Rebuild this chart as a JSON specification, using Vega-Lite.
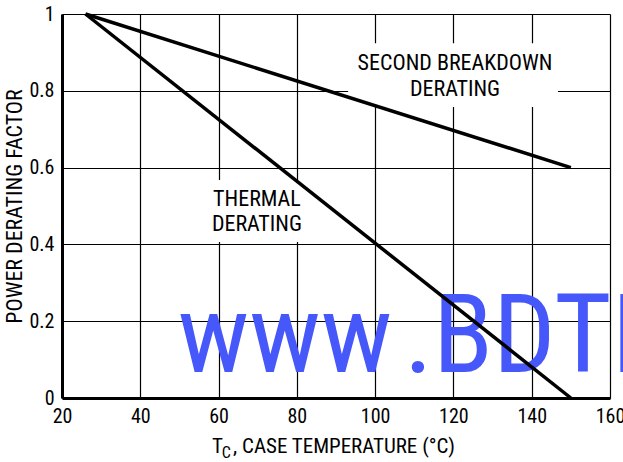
{
  "$schema": "https://vega.github.io/schema/vega-lite/v6.json",
  "width": 548,
  "height": 384,
  "autosize": {"type": "none"},
  "padding": {"left": 62, "top": 14, "right": 13, "bottom": 64},
  "background": "white",
  "config": {
    "view": {"stroke": null},
    "font": "Roboto Condensed, DejaVu Sans Condensed, Liberation Sans Narrow, Liberation Sans, sans-serif",
    "text": {"font": "Roboto Condensed, DejaVu Sans Condensed, Liberation Sans Narrow, Liberation Sans, sans-serif", "color": "black"}
  },
  "datasets": {
    "curves": [
      {"series": "Thermal derating", "T": 26, "P": 1},
      {"series": "Thermal derating", "T": 150, "P": 0},
      {"series": "Second breakdown derating", "T": 26, "P": 1},
      {"series": "Second breakdown derating", "T": 150, "P": 0.6}
    ]
  },
  "layer": [
    {
      "data": {"values": [{}]},
      "mark": {"type": "rect", "fill": "white", "stroke": null},
      "encoding": {
        "x": {"datum": 93.1, "type": "quantitative", "scale": {"domain": [20, 160], "nice": false, "zero": false},
          "axis": {
            "values": [20, 30, 40, 50, 60, 70, 80, 90, 100, 110, 120, 130, 140, 150, 160],
            "labelExpr": "datum.value % 20 === 0 ? datum.label : ''",
            "grid": true, "gridColor": "black", "gridWidth": 1.2, "gridOpacity": 1,
            "domain": true, "domainColor": "black", "domainWidth": 3,
            "ticks": false, "tickSize": 0, "labelPadding": 8,
            "labelFontSize": 20, "labelColor": "black", "labelFlush": false, "labelOverlap": false,
            "labelFont": "Roboto Condensed, DejaVu Sans Condensed, Liberation Sans Narrow, Liberation Sans, sans-serif",
            "title": null
          }
        },
        "x2": {"datum": 146.7},
        "y": {"datum": 0.924, "type": "quantitative", "scale": {"domain": [0, 1], "nice": false, "zero": false},
          "axis": {
            "values": [0, 0.1, 0.2, 0.3, 0.4, 0.5, 0.6, 0.7, 0.8, 0.9, 1],
            "format": ".1~f",
            "labelExpr": "round(datum.value * 10) % 2 === 0 ? datum.label : ''",
            "grid": true, "gridColor": "black", "gridWidth": 1.2, "gridOpacity": 1,
            "domain": true, "domainColor": "black", "domainWidth": 3,
            "ticks": false, "tickSize": 0, "labelPadding": 8,
            "labelFontSize": 20, "labelColor": "black", "labelFlush": false, "labelOverlap": false,
            "labelFont": "Roboto Condensed, DejaVu Sans Condensed, Liberation Sans Narrow, Liberation Sans, sans-serif",
            "title": "POWER DERATING FACTOR",
            "titleFont": "Roboto Condensed, DejaVu Sans Condensed, Liberation Sans Narrow, Liberation Sans, sans-serif",
            "titleFontSize": 22, "titleFontWeight": "normal", "titleColor": "black", "titlePadding": 2
          }
        },
        "y2": {"datum": 0.758}
      }
    },
    {
      "data": {"values": [{}]},
      "mark": {"type": "rect", "fill": "white", "stroke": null},
      "encoding": {
        "x": {"datum": 56.0, "type": "quantitative"},
        "x2": {"datum": 82.8},
        "y": {"datum": 0.568, "type": "quantitative"},
        "y2": {"datum": 0.406}
      }
    },
    {
      "data": {"values": [{}]},
      "mark": {"type": "text", "text": "www\u200a.BDTIC.com", "fontSize": 110, "color": "#4658fa", "align": "left", "baseline": "alphabetic", "clip": false},
      "encoding": {
        "x": {"datum": 49.6, "type": "quantitative"},
        "y": {"datum": 0.068, "type": "quantitative"}
      }
    },
    {
      "data": {"name": "curves"},
      "mark": {"type": "line", "color": "black", "strokeWidth": 3.5},
      "encoding": {
        "x": {"field": "T", "type": "quantitative"},
        "y": {"field": "P", "type": "quantitative"},
        "detail": {"field": "series"}
      }
    },
    {
      "data": {"values": [{}]},
      "mark": {"type": "text", "text": ["SECOND BREAKDOWN", "DERATING"], "fontSize": 22, "lineHeight": 26, "align": "center", "baseline": "middle"},
      "encoding": {
        "x": {"datum": 120.4, "type": "quantitative"},
        "y": {"datum": 0.872, "type": "quantitative"}
      }
    },
    {
      "data": {"values": [{}]},
      "mark": {"type": "text", "text": ["THERMAL", "DERATING"], "fontSize": 22, "lineHeight": 25, "align": "center", "baseline": "middle"},
      "encoding": {
        "x": {"datum": 69.8, "type": "quantitative"},
        "y": {"datum": 0.519, "type": "quantitative"}
      }
    },
    {
      "data": {"values": [{}]},
      "mark": {"type": "text", "text": "T", "fontSize": 21, "align": "left", "baseline": "alphabetic", "clip": false},
      "encoding": {
        "x": {"datum": 58.3, "type": "quantitative"},
        "y": {"datum": -0.1432, "type": "quantitative"}
      }
    },
    {
      "data": {"values": [{}]},
      "mark": {"type": "text", "text": "C", "fontSize": 16, "align": "left", "baseline": "alphabetic", "clip": false},
      "encoding": {
        "x": {"datum": 60.8, "type": "quantitative"},
        "y": {"datum": -0.156, "type": "quantitative"}
      }
    },
    {
      "data": {"values": [{}]},
      "mark": {"type": "text", "text": ", CASE TEMPERATURE (°C)", "fontSize": 21, "align": "left", "baseline": "alphabetic", "clip": false},
      "encoding": {
        "x": {"datum": 63.7, "type": "quantitative"},
        "y": {"datum": -0.1432, "type": "quantitative"}
      }
    }
  ]
}
